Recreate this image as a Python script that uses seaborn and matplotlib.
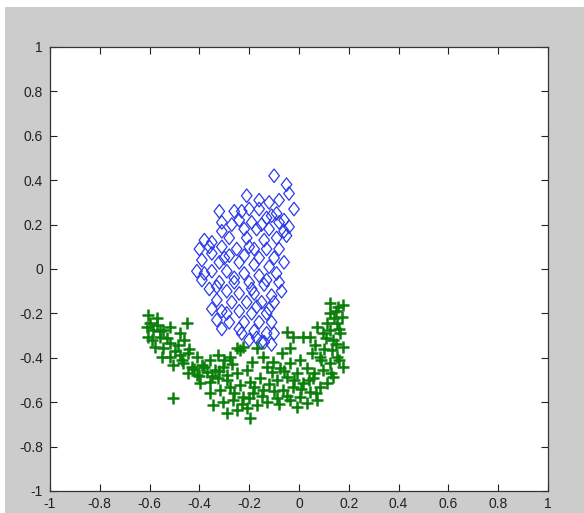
import matplotlib
matplotlib.use("Agg")
import matplotlib.pyplot as plt
from matplotlib.patches import Rectangle
from matplotlib.path import Path
import pandas as pd
import seaborn as sns

# Class A (blue diamonds)
blue_x = [-0.10, -0.05, -0.04, -0.21, -0.16, -0.12, -0.08, -0.02, -0.32, -0.26,
          -0.20, -0.16, -0.09, -0.31, -0.24, -0.19, -0.13, -0.08, -0.04, -0.31,
          -0.22, -0.17, -0.12, -0.06, -0.38, -0.35, -0.28, -0.21, -0.14, -0.09,
          -0.05, -0.40, -0.31, -0.25, -0.18, -0.13, -0.08, -0.35, -0.28, -0.22,
          -0.16, -0.10, -0.39, -0.32, -0.24, -0.18, -0.12, -0.06, -0.41, -0.35,
          -0.29, -0.22, -0.16, -0.09, -0.39, -0.32, -0.26, -0.20, -0.14, -0.08,
          -0.36, -0.29, -0.24, -0.18, -0.11, -0.33, -0.27, -0.21, -0.15, -0.10,
          -0.35, -0.31, -0.24, -0.19, -0.13, -0.33, -0.28, -0.22, -0.16, -0.11,
          -0.31, -0.24, -0.18, -0.13, -0.20, -0.15, -0.11, -0.17,
          -0.27, -0.20, -0.15, -0.11, -0.06, -0.30, -0.26, -0.19, -0.13, -0.07,
          -0.38, -0.33, -0.29, -0.23, -0.17, -0.12, -0.14, -0.10, -0.36, -0.23]
blue_y = [0.42, 0.38, 0.34, 0.33, 0.31, 0.30, 0.31, 0.27, 0.26, 0.26,
          0.27, 0.27, 0.25, 0.21, 0.22, 0.21, 0.23, 0.21, 0.19, 0.17,
          0.18, 0.18, 0.18, 0.17, 0.13, 0.12, 0.14, 0.14, 0.13, 0.14,
          0.15, 0.09, 0.10, 0.09, 0.09, 0.09, 0.09, 0.07, 0.06, 0.06,
          0.05, 0.05, 0.04, 0.03, 0.03, 0.02, 0.01, 0.03, -0.01, -0.01,
          -0.01, -0.02, -0.03, -0.02, -0.05, -0.06, -0.06, -0.06, -0.07, -0.06,
          -0.09, -0.10, -0.11, -0.11, -0.12, -0.14, -0.15, -0.15, -0.15, -0.15,
          -0.18, -0.19, -0.19, -0.20, -0.20, -0.23, -0.24, -0.24, -0.24, -0.24,
          -0.27, -0.27, -0.28, -0.29, -0.32, -0.33, -0.34, -0.31,
          0.20, 0.10, 0.20, 0.24, 0.22, 0.05, -0.04, -0.09, -0.05, -0.10,
          -0.02, -0.08, -0.20, -0.29, -0.17, -0.18, -0.33, -0.29, 0.10, 0.26]

# Class B (green crosses)
green_x = [-0.605, -0.598, -0.585, -0.571, -0.605, -0.558, -0.545, -0.518, -0.478, -0.451,
           -0.578, -0.545, -0.518, -0.485, -0.551, -0.518, -0.478, -0.445, -0.411, -0.505,
           -0.465, -0.431, -0.391, -0.357, -0.324, -0.445, -0.411, -0.371, -0.337, -0.304,
           -0.277, -0.250, -0.224, -0.505, -0.398, -0.357, -0.324, -0.290, -0.250, -0.210,
           -0.357, -0.317, -0.277, -0.237, -0.197, -0.157, -0.344, -0.304, -0.264, -0.224,
           -0.184, -0.143, -0.290, -0.250, -0.210, -0.170, -0.130, -0.090, -0.197, -0.237,
           -0.170, -0.143, -0.103, -0.069, -0.036, -0.110, -0.076, -0.036, 0.004, -0.090,
           -0.049, -0.009, 0.031, -0.063, -0.023, 0.017, 0.057, -0.036, 0.004, 0.044,
           0.084, -0.009, 0.031, 0.071, 0.044, 0.064, 0.051, 0.084, 0.098, 0.124,
           0.131, 0.138, 0.124, 0.151, 0.124, 0.158, 0.124, 0.178, 0.111, 0.165,
           0.178, 0.151, 0.178, 0.138, 0.111, 0.171, 0.098, 0.071, 0.017, -0.023,
           -0.049,
           -0.59, -0.56, -0.53, -0.50, -0.47, -0.44, -0.42, -0.38, -0.35, -0.32,
           -0.29, -0.27, -0.26, -0.23, -0.20, -0.18, -0.15, -0.12, -0.10, -0.08,
           -0.05, -0.02, 0.01, 0.04, 0.06, 0.09, 0.10, 0.11, 0.14, 0.15,
           0.16, 0.15, 0.16, 0.13, 0.07, -0.06, -0.13, -0.19, -0.30, -0.40,
           -0.46, -0.61, -0.57]
green_y = [-0.207, -0.245, -0.275, -0.252, -0.305, -0.305, -0.275, -0.260, -0.290, -0.245,
           -0.350, -0.357, -0.335, -0.342, -0.395, -0.395, -0.387, -0.380, -0.395, -0.432,
           -0.425, -0.440, -0.432, -0.410, -0.387, -0.470, -0.477, -0.463, -0.455, -0.440,
           -0.395, -0.357, -0.350, -0.582, -0.515, -0.508, -0.492, -0.477, -0.470, -0.455,
           -0.560, -0.545, -0.530, -0.523, -0.508, -0.492, -0.613, -0.598, -0.590, -0.575,
           -0.560, -0.545, -0.650, -0.635, -0.627, -0.613, -0.598, -0.582, -0.673, -0.365,
           -0.357, -0.395, -0.418, -0.380, -0.357, -0.463, -0.447, -0.425, -0.410, -0.500,
           -0.485, -0.470, -0.447, -0.545, -0.530, -0.515, -0.492, -0.590, -0.575, -0.553,
           -0.530, -0.620, -0.605, -0.590, -0.305, -0.342, -0.380, -0.395, -0.455, -0.425,
           -0.365, -0.320, -0.275, -0.245, -0.200, -0.170, -0.155, -0.162, -0.245, -0.290,
           -0.350, -0.395, -0.440, -0.485, -0.515, -0.215, -0.290, -0.260, -0.305, -0.305,
           -0.282,
           -0.32, -0.28, -0.31, -0.37, -0.41, -0.36, -0.45, -0.44, -0.48, -0.46,
           -0.50, -0.43, -0.56, -0.61, -0.58, -0.53, -0.57, -0.52, -0.55, -0.61,
           -0.57, -0.50, -0.54, -0.50, -0.47, -0.41, -0.36, -0.31, -0.22, -0.19,
           -0.27, -0.34, -0.41, -0.47, -0.56, -0.46, -0.44, -0.42, -0.41, -0.48,
           -0.32, -0.26, -0.22]

tick_values = [-1, -0.8, -0.6, -0.4, -0.2, 0, 0.2, 0.4, 0.6, 0.8, 1]
tick_labels = ["-1", "-0.8", "-0.6", "-0.4", "-0.2", "0", "0.2", "0.4", "0.6", "0.8", "1"]

blue_df = pd.DataFrame({"x": blue_x, "y": blue_y})
green_df = pd.DataFrame({"x": green_x, "y": green_y})

# slightly tall diamond outline
diamond = Path([(0, 1), (0.78, 0), (0, -1), (-0.78, 0), (0, 1)],
               [Path.MOVETO, Path.LINETO, Path.LINETO, Path.LINETO, Path.CLOSEPOLY])

sns.set_theme(style="white")
plt.rcParams["font.family"] = ["Liberation Sans", "DejaVu Sans"]

fig = plt.figure(figsize=(5.84, 5.13), dpi=100, facecolor="white")
# grey window panel behind the axes
fig.patches.append(Rectangle((5 / 584, 0), 1 - 5 / 584, 506 / 513,
                             transform=fig.transFigure, facecolor="#cccccc",
                             edgecolor="none", zorder=-10))
ax = fig.add_axes([50 / 584, 22 / 513, 498 / 584, 444 / 513])
ax.set_facecolor("white")

sns.scatterplot(data=blue_df, x="x", y="y", ax=ax, marker=diamond, s=95,
                color="#2a3bea", facecolor="none", edgecolor="#2a3bea",
                linewidth=0.9, legend=False)
sns.scatterplot(data=green_df, x="x", y="y", ax=ax, marker="+", s=80,
                color="#0a7f0a", linewidth=1.8, legend=False)

ax.set_xlim(-1, 1)
ax.set_ylim(-1, 1)
ax.set_xticks(tick_values)
ax.set_xticklabels(tick_labels)
ax.set_yticks(tick_values)
ax.set_yticklabels(tick_labels)
ax.set_xlabel("")
ax.set_ylabel("")
ax.tick_params(direction="in", length=5, width=0.8, colors="#222222",
               labelsize=10, labelcolor="#222222",
               top=True, right=True, bottom=True, left=True)
ax.tick_params(axis="x", pad=4)
ax.tick_params(axis="y", pad=5)
for sp in ax.spines.values():
    sp.set_visible(True)
    sp.set_color("#333333")
    sp.set_linewidth(0.9)

fig.savefig("out.png", dpi=100, facecolor="white")
